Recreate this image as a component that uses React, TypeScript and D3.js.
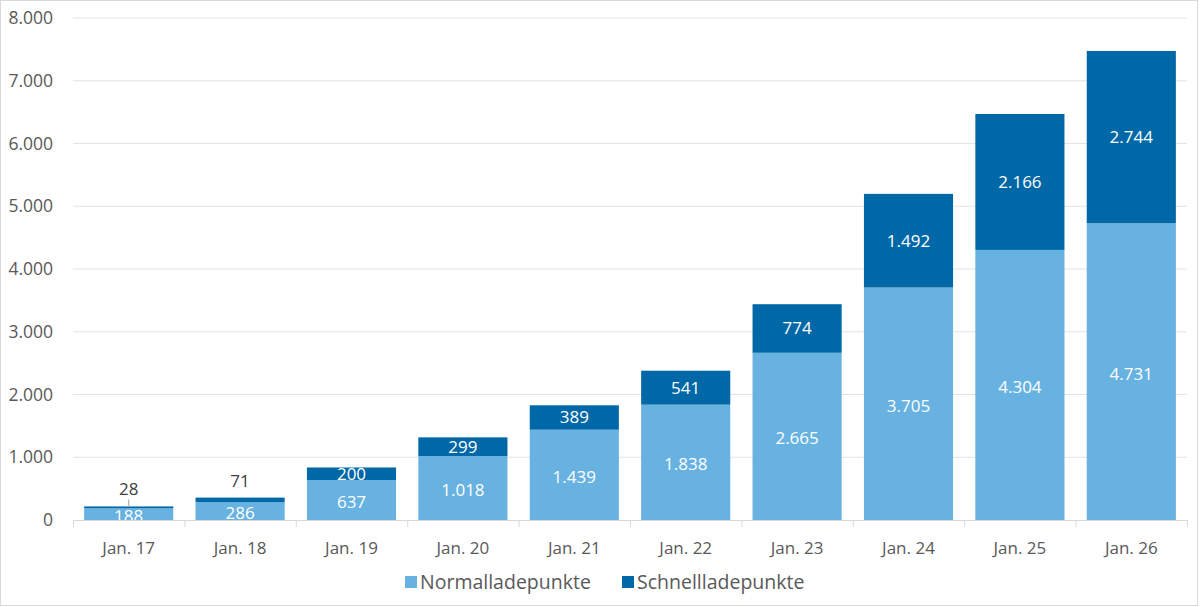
import { useEffect, useRef } from "react";
import * as d3 from "d3";

const categories = ["Jan. 17", "Jan. 18", "Jan. 19", "Jan. 20", "Jan. 21", "Jan. 22", "Jan. 23", "Jan. 24", "Jan. 25", "Jan. 26"];
const normal = [188, 286, 637, 1018, 1439, 1838, 2665, 3705, 4304, 4731];
const fast = [28, 71, 200, 299, 389, 541, 774, 1492, 2166, 2744];
const yTicks = [0, 1000, 2000, 3000, 4000, 5000, 6000, 7000, 8000];
const seriesNames = ["Normalladepunkte", "Schnellladepunkte"];

const colors = ["#67b2e1", "#0068a6"];
const font = "'Open Sans', 'Noto Sans', sans-serif";

const de = d3.formatLocale({ decimal: ",", thousands: ".", grouping: [3], currency: ["", " €"] });
const fmt = de.format(",d");

export default function App() {
  const ref = useRef<SVGSVGElement | null>(null);

  useEffect(() => {
    document.body.style.margin = "0";
    const svg = d3.select(ref.current);
    svg.selectAll("*").remove();

    const width = 1200;
    const height = 607;
    const margin = { top: 18, right: 13, bottom: 87, left: 73 };
    const innerW = width - margin.left - margin.right;
    const innerH = height - margin.top - margin.bottom;

    svg.append("rect")
      .attr("x", 0.5).attr("y", 0.5)
      .attr("width", 1197).attr("height", 605)
      .attr("fill", "#fff").attr("stroke", "#d9d9d9");

    const x = d3.scaleBand().domain(categories).range([0, innerW]).paddingInner(0.2).paddingOuter(0.1);
    const xb = d3.scaleBand().domain(categories).range([0, innerW]);
    const y = d3.scaleLinear().domain([0, 8000]).range([innerH, 0]);

    const g = svg.append("g").attr("transform", `translate(${margin.left},${margin.top})`);

    svg.append("defs").append("clipPath").attr("id", "plotclip")
      .append("rect").attr("x", 0).attr("y", -10).attr("width", innerW).attr("height", innerH + 10);

    // grid
    g.selectAll("line.grid")
      .data(yTicks.filter((d) => d > 0))
      .join("line")
      .attr("x1", 0).attr("x2", innerW)
      .attr("y1", (d) => y(d)).attr("y2", (d) => y(d))
      .attr("stroke", "#e3e3e3").attr("stroke-width", 1);

    // y labels
    g.selectAll("text.ytick")
      .data(yTicks)
      .join("text")
      .attr("x", -20)
      .attr("y", (d) => y(d))
      .attr("dy", "0.35em")
      .attr("text-anchor", "end")
      .attr("font-family", font)
      .attr("font-size", 17.5)
      .attr("fill", "#595959")
      .text((d) => fmt(d));

    const stacked = d3.stack<number>()
      .keys(["normal", "fast"])
      .value((i, key) => (key === "normal" ? normal[i] : fast[i]))(d3.range(categories.length));

    stacked.forEach((layer, li) => {
      g.append("g")
        .selectAll("rect")
        .data(layer)
        .join("rect")
        .attr("x", (d) => x(categories[d.data])!)
        .attr("width", x.bandwidth())
        .attr("y", (d) => y(d[1]))
        .attr("height", (d) => y(d[0]) - y(d[1]))
        .attr("fill", colors[li]);
    });

    // axis line and ticks
    g.append("line")
      .attr("x1", 0).attr("x2", innerW)
      .attr("y1", innerH + 0.5).attr("y2", innerH + 0.5)
      .attr("stroke", "#d9d9d9");
    g.selectAll("line.xtick")
      .data(d3.range(categories.length + 1))
      .join("line")
      .attr("x1", (i) => i * xb.bandwidth() + 0.5)
      .attr("x2", (i) => i * xb.bandwidth() + 0.5)
      .attr("y1", innerH).attr("y2", innerH + 7)
      .attr("stroke", "#d9d9d9");

    g.selectAll("text.xlab")
      .data(categories)
      .join("text")
      .attr("x", (d) => x(d)! + x.bandwidth() / 2)
      .attr("y", innerH + 28)
      .attr("dy", "0.35em")
      .attr("text-anchor", "middle")
      .attr("font-family", font)
      .attr("font-size", 17)
      .attr("fill", "#595959")
      .text((d) => d);

    // labels
    const labels = g.append("g").attr("clip-path", "url(#plotclip)");
    stacked[0].forEach((d) => {
      labels.append("text")
        .attr("x", x(categories[d.data])! + x.bandwidth() / 2)
        .attr("y", (y(d[0]) + y(d[1])) / 2 + 2)
        .attr("dy", "0.35em")
        .attr("text-anchor", "middle")
        .attr("font-family", font)
        .attr("font-size", 17)
        .attr("fill", "#fff")
        .text(fmt(normal[d.data]));
    });
    stacked[1].forEach((d) => {
      const cx = x(categories[d.data])! + x.bandwidth() / 2;
      const segH = y(d[0]) - y(d[1]);
      if (segH < 12) {
        const ly = y(d[1]) - 17;
        labels.append("text")
          .attr("x", cx).attr("y", ly)
          .attr("dy", "0.35em")
          .attr("text-anchor", "middle")
          .attr("font-family", font)
          .attr("font-size", 17)
          .attr("fill", "#404040")
          .text(fmt(fast[d.data]));
        if (d.data === 0) {
          labels.append("line")
            .attr("x1", cx).attr("x2", cx)
            .attr("y1", ly + 10).attr("y2", y(d[1]))
            .attr("stroke", "#a6a6a6");
        }
      } else {
        labels.append("text")
          .attr("x", cx)
          .attr("y", (y(d[0]) + y(d[1])) / 2)
          .attr("dy", "0.35em")
          .attr("text-anchor", "middle")
          .attr("font-family", font)
          .attr("font-size", 17)
          .attr("font-weight", 500)
          .attr("fill", "#fff")
          .text(fmt(fast[d.data]));
      }
    });

    // legend
    const legendX = [405, 622];
    seriesNames.forEach((name, i) => {
      const lg = svg.append("g").attr("transform", `translate(${legendX[i]},582)`);
      lg.append("rect").attr("x", 0).attr("y", -6).attr("width", 12).attr("height", 12).attr("fill", colors[i]);
      lg.append("text")
        .attr("x", 15).attr("y", 0).attr("dy", "0.35em")
        .attr("font-family", font).attr("font-size", 19.5)
        .attr("fill", "#595959")
        .text(name);
    });
  }, []);

  return <svg ref={ref} width={1200} height={607} style={{ display: "block" }} />;
}
